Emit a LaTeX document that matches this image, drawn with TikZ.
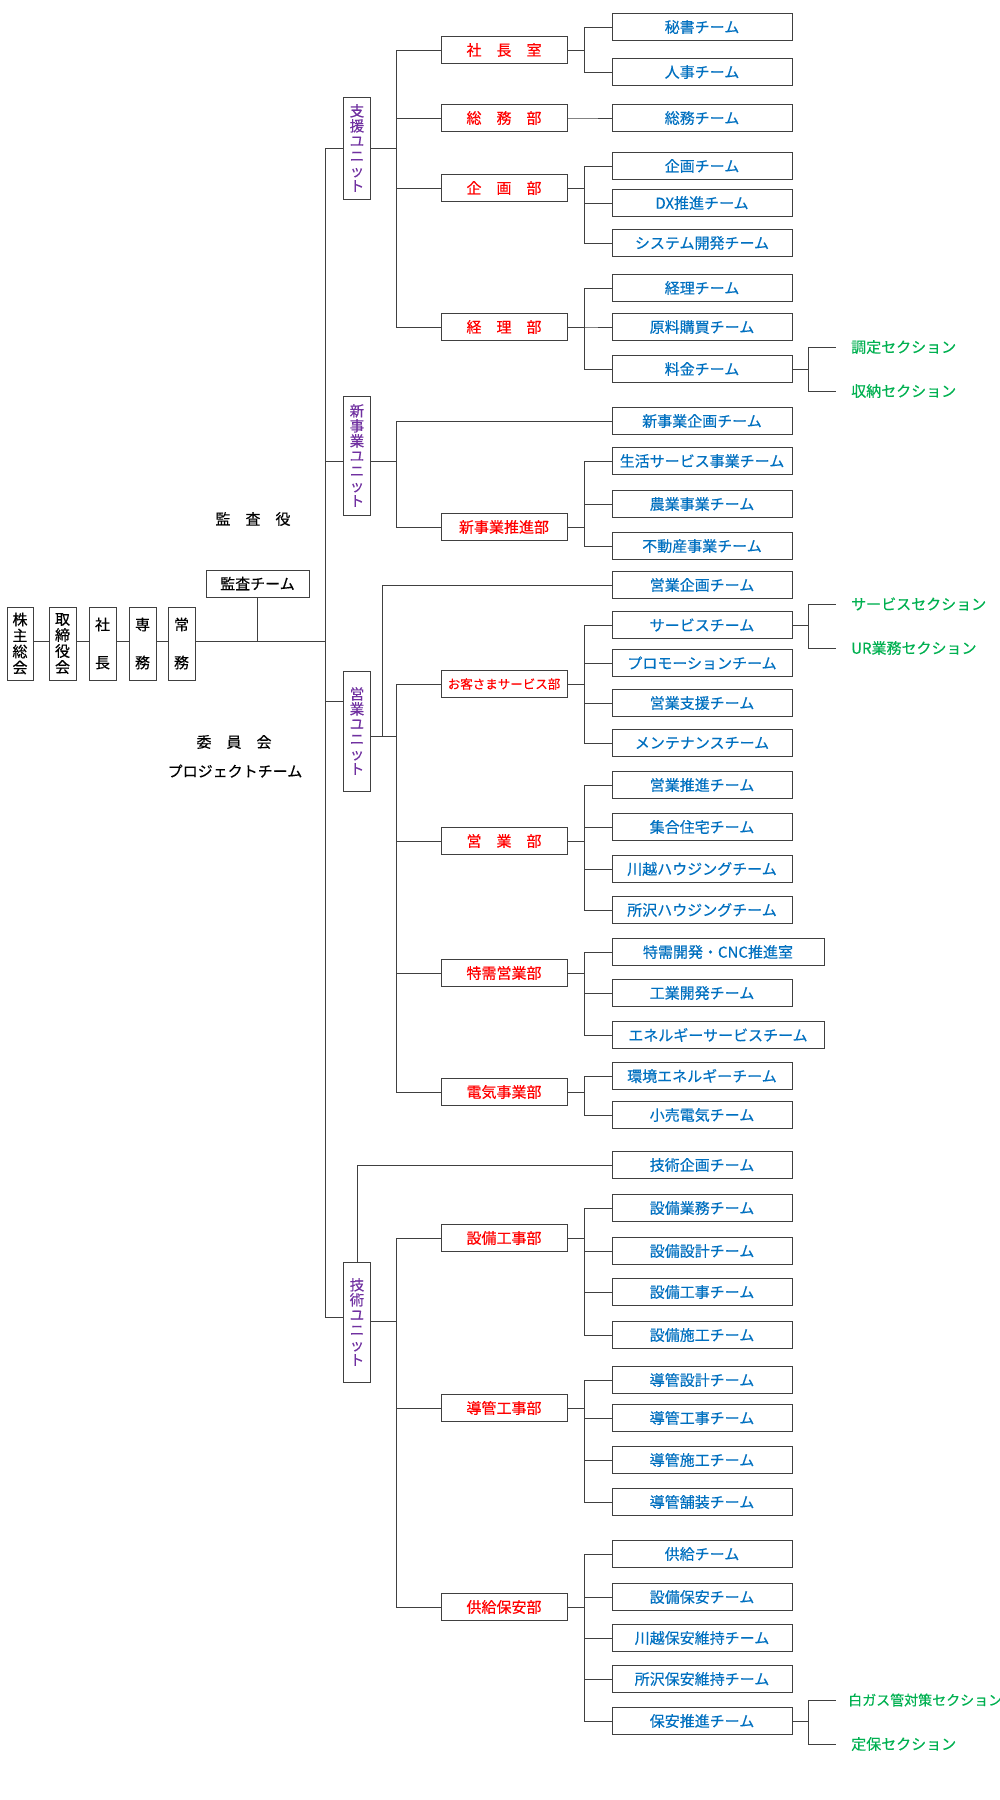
\documentclass[tikz,border=0pt]{standalone}
\usepackage{fontspec}
\setmainfont{Noto Sans CJK JP}[FakeBold=0.35]
\usetikzlibrary{calc}
\definecolor{cred}{HTML}{FF0000}
\definecolor{cblue}{HTML}{0070C0}
\definecolor{cpurple}{HTML}{7030A0}
\definecolor{cgreen}{HTML}{00B050}
\definecolor{cline}{HTML}{404040}
\begin{document}
\begin{tikzpicture}[x=1pt,y=-1pt,
  every node/.style={inner sep=0pt, font=\fontsize{15}{17}\selectfont},
  box/.style={draw=cline, line width=1pt, fill=white},
  dept/.style={box, minimum width=126pt, minimum height=27pt, text=cred},
  team/.style={box, minimum width=180pt, minimum height=27pt, text=cblue},
  wteam/.style={team, minimum width=212pt},
  unit/.style={box, minimum width=27pt, text=cpurple, align=center, font=\fontsize{14.5}{15}\selectfont},
  sect/.style={anchor=west, inner xsep=15pt, text=cgreen},
  chain/.style={box, minimum width=27pt, minimum height=73pt, align=center, font=\fontsize{15}{16}\selectfont},
  conn/.style={draw=cline, line width=1pt},
]
\useasboundingbox (0,0) rectangle (1000,1800);

% ---- left chain ----
\node[chain, minimum width=26pt] (c1) at (20,643.5) {株\\主\\総\\会};
\node[chain] (c2) at (62.5,643.5) {取\\締\\役\\会};
\node[chain] (c3) at (102.5,643.5) {社\\[22pt]長};
\node[chain] (c4) at (142.5,643.5) {専\\[22pt]務};
\node[chain] (c5) at (181.5,643.5) {常\\[22pt]務};
\node[box, minimum width=103pt, minimum height=27pt] (audit) at (257.5,583.5) {監査チーム};
\node (kansayaku) at (253,519) {監　査　役};
\node (iinkai) at (234,742) {委　員　会};
\node (pj) at (235,771) {プロジェクトチーム};

\coordinate (jc) at (325,641);
\coordinate (j1) at (325,148);
\coordinate (j2) at (325,461);
\coordinate (j3) at (325,701);
\coordinate (j4) at (325,1317);

% ---- units ----
\node[unit, minimum height=102pt] (u1) at (357,148) {支\\援\\ユ\\ニ\\ッ\\ト};
\node[unit, minimum height=119pt] (u2) at (357,455.5) {新\\事\\業\\ユ\\ニ\\ッ\\ト};
\node[unit, minimum height=120pt] (u3) at (357,731) {営\\業\\ユ\\ニ\\ッ\\ト};
\node[unit, minimum height=120pt] (u4) at (357,1322) {技\\術\\ユ\\ニ\\ッ\\ト};

% ---- departments ----
\node[dept] (d1) at (504,50) {社　長　室};
\node[dept] (d2) at (504,118) {総　務　部};
\node[dept] (d3) at (504,188) {企　画　部};
\node[dept] (d4) at (504,327) {経　理　部};
\node[dept] (d5) at (504,527) {新事業推進部};
\node[dept, font=\fontsize{12.5}{14}\selectfont] (d6) at (504,684) {お客さまサービス部};
\node[dept] (d7) at (504,841) {営　業　部};
\node[dept] (d8) at (504,973) {特需営業部};
\node[dept] (d9) at (504,1092) {電気事業部};
\node[dept] (d10) at (504,1238) {設備工事部};
\node[dept] (d11) at (504,1408) {導管工事部};
\node[dept] (d12) at (504,1607) {供給保安部};

% ---- teams ----
\node[team] (t1) at (702,27) {秘書チーム};
\node[team] (t2) at (702,72) {人事チーム};
\node[team] (t3) at (702,118) {総務チーム};
\node[team] (t4) at (702,166) {企画チーム};
\node[team] (t5) at (702,203) {DX推進チーム};
\node[team] (t6) at (702,243) {システム開発チーム};
\node[team] (t7) at (702,288) {経理チーム};
\node[team] (t8) at (702,327) {原料購買チーム};
\node[team] (t9) at (702,369) {料金チーム};
\node[team] (t10) at (702,421) {新事業企画チーム};
\node[team] (t11) at (702,461) {生活サービス事業チーム};
\node[team] (t12) at (702,504) {農業事業チーム};
\node[team] (t13) at (702,546) {不動産事業チーム};
\node[team] (t14) at (702,585) {営業企画チーム};
\node[team] (t15) at (702,625) {サービスチーム};
\node[team] (t16) at (702,663) {プロモーションチーム};
\node[team] (t17) at (702,703) {営業支援チーム};
\node[team] (t18) at (702,743) {メンテナンスチーム};
\node[team] (t19) at (702,785) {営業推進チーム};
\node[team] (t20) at (702,827) {集合住宅チーム};
\node[team] (t21) at (702,869) {川越ハウジングチーム};
\node[team] (t22) at (702,910) {所沢ハウジングチーム};
\node[wteam] (t23) at (718,952) {特需開発・CNC推進室};
\node[team] (t24) at (702,993) {工業開発チーム};
\node[wteam] (t25) at (718,1035) {エネルギーサービスチーム};
\node[team] (t26) at (702,1076) {環境エネルギーチーム};
\node[team] (t27) at (702,1115) {小売電気チーム};
\node[team] (t28) at (702,1165) {技術企画チーム};
\node[team] (t29) at (702,1208) {設備業務チーム};
\node[team] (t30) at (702,1251) {設備設計チーム};
\node[team] (t31) at (702,1292) {設備工事チーム};
\node[team] (t32) at (702,1335) {設備施工チーム};
\node[team] (t33) at (702,1380) {導管設計チーム};
\node[team] (t34) at (702,1418) {導管工事チーム};
\node[team] (t35) at (702,1460) {導管施工チーム};
\node[team] (t36) at (702,1502) {導管舗装チーム};
\node[team] (t37) at (702,1554) {供給チーム};
\node[team] (t38) at (702,1597) {設備保安チーム};
\node[team] (t39) at (702,1638) {川越保安維持チーム};
\node[team] (t40) at (702,1679) {所沢保安維持チーム};
\node[team] (t41) at (702,1721) {保安推進チーム};

% ---- sections ----
\node[sect] (s1) at (836,347) {調定セクション};
\node[sect] (s2) at (836,391) {収納セクション};
\node[sect] (s3) at (836,604) {サービスセクション};
\node[sect] (s4) at (836,648) {UR業務セクション};
\node[sect, inner xsep=12pt, font=\fontsize{14}{16}\selectfont] (s5) at (836,1700) {白ガス管対策セクション};
\node[sect] (s6) at (836,1744) {定保セクション};

% ---- connectors: left chain ----
\draw[conn] (c1.east |- jc) -- (c2.west |- jc);
\draw[conn] (c2.east |- jc) -- (c3.west |- jc);
\draw[conn] (c3.east |- jc) -- (c4.west |- jc);
\draw[conn] (c4.east |- jc) -- (c5.west |- jc);
\draw[conn] (c5.east |- jc) -- (jc);
\draw[conn] (audit.south) -- (audit.south |- jc);

% trunk
\draw[conn] (j1) -- (j4);
\draw[conn] (j1) -- (u1.west);
\draw[conn] (j2) -- (j2 -| u2.west);
\draw[conn] (j3) -- (j3 -| u3.west);
\draw[conn] (j4) -- (j4 -| u4.west);

% unit -> departments
\coordinate (r2) at (u2.east |- j2);
\coordinate (r3) at (u3.east |- 0,736);
\coordinate (r4) at (u4.east |- 0,1321);
\coordinate (b3) at (382,736);
\foreach \d in {d1,d2,d3,d4} \draw[conn] (u1.east) -- ++(25.5,0) |- (\d.west);
\foreach \d in {t10,d5} \draw[conn] (r2) -- ++(25.5,0) |- (\d.west);
\draw[conn] (r3) -- (b3) |- (t14.west);
\foreach \d in {d6,d7,d8,d9} \draw[conn] (b3) -- ++(14,0) |- (\d.west);
\foreach \d in {d10,d11,d12} \draw[conn] (r4) -- ++(25.5,0) |- (\d.west);
\draw[conn] (u4.north) |- (t28.west);

% departments -> teams
\foreach \d/\t in {d1/t1,d1/t2,d2/t3,d3/t4,d3/t5,d3/t6,d4/t7,d4/t8,d4/t9,
  d5/t11,d5/t12,d5/t13,d6/t15,d6/t16,d6/t17,d6/t18,d7/t19,d7/t20,d7/t21,d7/t22,
  d8/t23,d8/t24,d8/t25,d9/t26,d9/t27,d10/t29,d10/t30,d10/t31,d10/t32,
  d11/t33,d11/t34,d11/t35,d11/t36,d12/t37,d12/t38,d12/t39,d12/t40,d12/t41}
  \draw[conn] (\d.east) -- ++(17,0) |- (\t.west);

% teams -> sections
\foreach \t/\s in {t9/s1,t9/s2,t15/s3,t15/s4,t41/s5,t41/s6}
  \draw[conn] (\t.east) -- ++(16,0) |- (\s.west);
\end{tikzpicture}
\end{document}
